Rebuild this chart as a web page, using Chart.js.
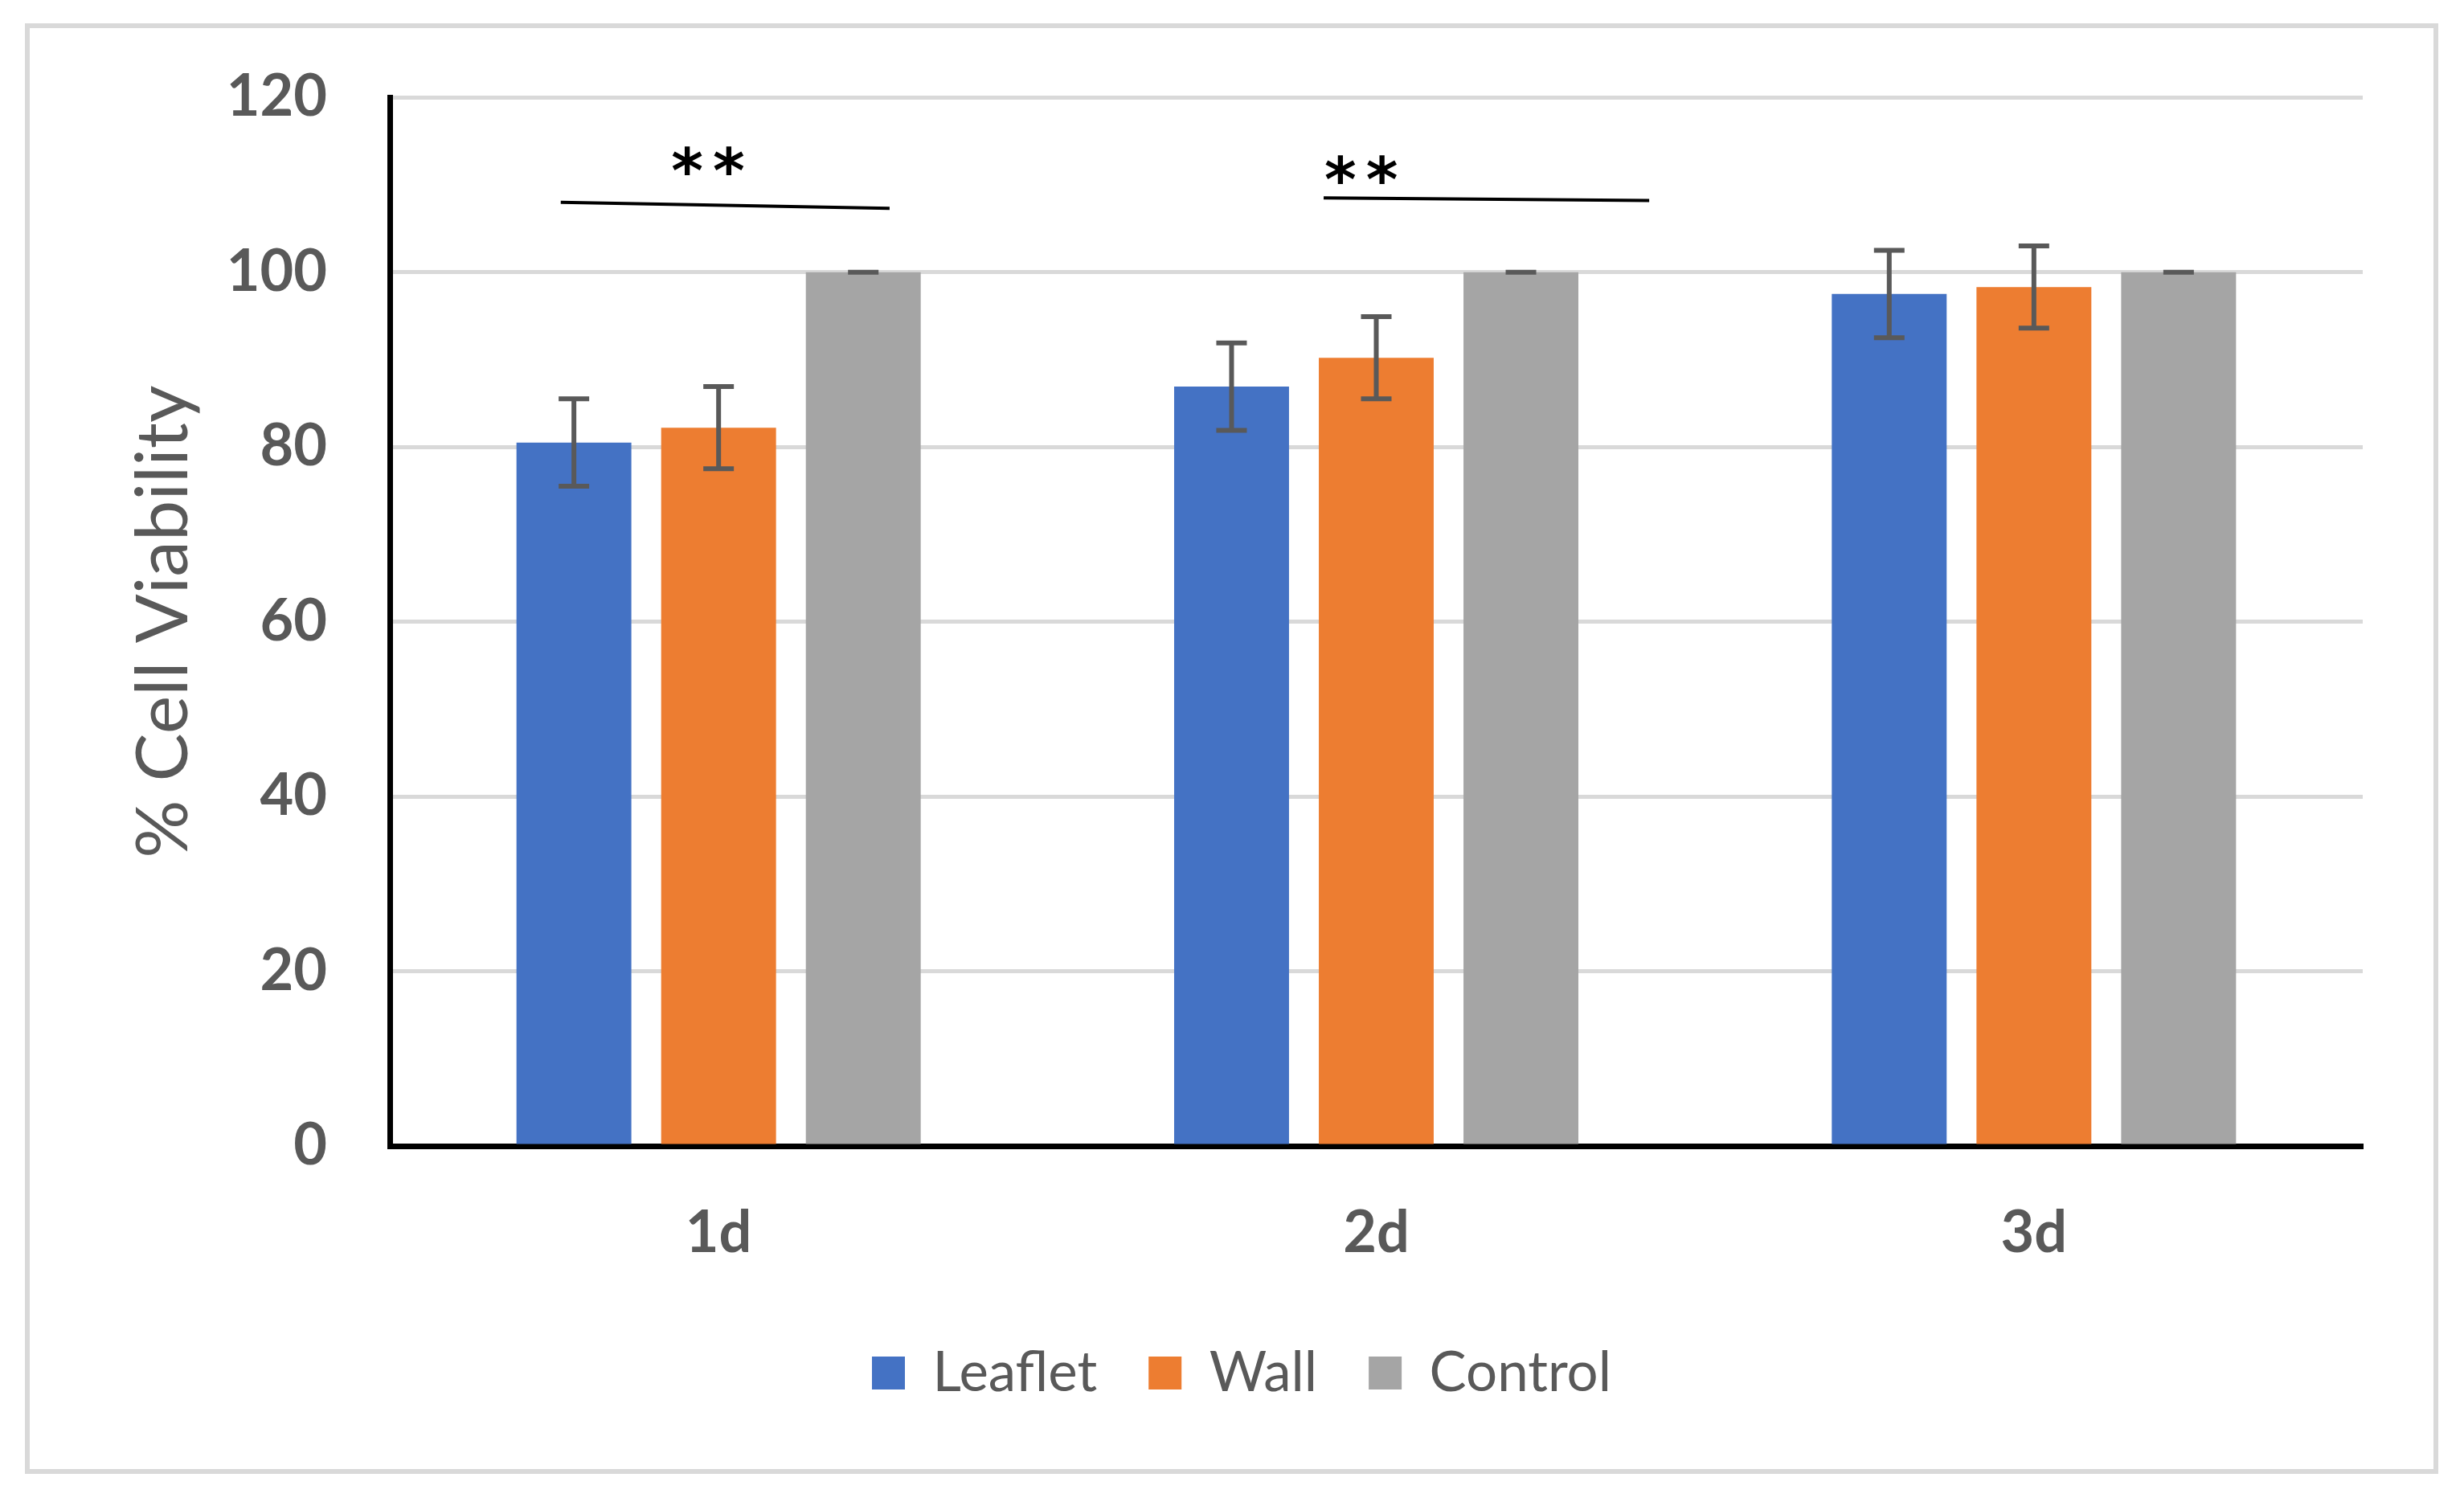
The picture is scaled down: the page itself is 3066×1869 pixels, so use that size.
<!DOCTYPE html>
<html>
<head>
<meta charset="utf-8">
<script src="https://cdn.jsdelivr.net/npm/chart.js@4/dist/chart.umd.min.js"></script>
<style>
  html, body { margin: 0; padding: 0; background: #fff; overflow: hidden; }
  #frame {
    position: absolute; left: 31px; top: 29px; width: 3003px; height: 1805px;
    border: 6px solid #d9d9d9; box-sizing: border-box; pointer-events: none;
  }
  canvas { position: absolute; left: 0; top: 0; }
</style>
</head>
<body>
<canvas id="viabilidad" width="3066" height="1869"></canvas>
<div id="frame"></div>
<script>
// data
const dias = ['1d', '2d', '3d'];
const leaflet = [80.5, 86.9, 97.5];
const wall = [82.2, 90.2, 98.3];
const control = [100, 100, 100];
const leafletErr = [5.0, 5.0, 5.0];
const wallErr = [4.7, 4.7, 4.7];
const controlErr = [0, 0, 0];
const yTicks = [0, 20, 40, 60, 80, 100, 120];

// significance bars (x in category index units, y in % units)
const sigFrom = [-0.24, 0.92];
const sigTo = [0.26, 1.415];
const sigYFrom = [108.0, 108.5];
const sigYTo = [107.3, 108.2];
const starX = [-0.016, 0.977];
const starY = [112.75, 111.7];
const starText = ['**', '**'];

const errores = [leafletErr, wallErr, controlErr];

const errorBars = {
  id: 'errorBars',
  afterDatasetsDraw(chart) {
    const { ctx, scales: { y } } = chart;
    ctx.save();
    ctx.strokeStyle = '#595959';
    chart.data.datasets.forEach((ds, i) => {
      const meta = chart.getDatasetMeta(i);
      meta.data.forEach((bar, j) => {
        const v = ds.data[j], e = errores[i][j];
        const yt = y.getPixelForValue(v + e);
        const yb = y.getPixelForValue(v - e);
        ctx.lineWidth = 6;
        ctx.beginPath();
        ctx.moveTo(bar.x, yt);
        ctx.lineTo(bar.x, yb);
        ctx.stroke();
        ctx.lineWidth = 6;
        ctx.beginPath();
        ctx.moveTo(bar.x - 19, yt); ctx.lineTo(bar.x + 19, yt);
        ctx.moveTo(bar.x - 19, yb); ctx.lineTo(bar.x + 19, yb);
        ctx.stroke();
      });
    });
    ctx.restore();
  }
};

const significancia = {
  id: 'significancia',
  afterDatasetsDraw(chart) {
    const { ctx, scales: { x, y } } = chart;
    ctx.save();
    ctx.strokeStyle = '#000';
    ctx.lineWidth = 4;
    sigFrom.forEach((f, i) => {
      ctx.beginPath();
      ctx.moveTo(x.getPixelForValue(f), y.getPixelForValue(sigYFrom[i]));
      ctx.lineTo(x.getPixelForValue(sigTo[i]), y.getPixelForValue(sigYTo[i]));
      ctx.stroke();
    });
    ctx.fillStyle = '#000';
    ctx.font = 'bold 76px "DejaVu Sans"';
    ctx.letterSpacing = '12px';
    ctx.textAlign = 'center';
    ctx.textBaseline = 'alphabetic';
    starText.forEach((t, i) => {
      const m = ctx.measureText(t);
      const off = (m.actualBoundingBoxAscent - m.actualBoundingBoxDescent) / 2;
      ctx.fillText(t, x.getPixelForValue(starX[i]) + 6, y.getPixelForValue(starY[i]) + off);
    });
    ctx.restore();
  }
};

new Chart(document.getElementById('viabilidad'), {
  type: 'bar',
  data: {
    labels: dias,
    datasets: [
      { label: 'Leaflet', data: leaflet, backgroundColor: '#4472C4' },
      { label: 'Wall', data: wall, backgroundColor: '#ED7D31' },
      { label: 'Control', data: control, backgroundColor: '#A5A5A5' }
    ]
  },
  options: {
    responsive: false,
    devicePixelRatio: 1,
    animation: false,
    categoryPercentage: 0.66,
    barPercentage: 0.794,
    layout: { padding: { left: 150, right: 126, top: 121, bottom: 116 } },
    scales: {
      x: {
        z: 1,
        grid: { display: false, drawTicks: false },
        border: { display: true, color: '#000', width: 7 },
        ticks: {
          color: '#595959',
          padding: 66,
          font: { family: 'Lato', size: 72, weight: 'bold' }
        },
        afterFit(s) { s.height = 184; }
      },
      y: {
        min: 0,
        max: 120,
        afterBuildTicks(s) { s.ticks = yTicks.map(v => ({ value: v })); },
        grid: {
          color: c => (c.tick && c.tick.value === 0 ? 'rgba(0,0,0,0)' : '#d9d9d9'),
          lineWidth: 5,
          drawTicks: false
        },
        border: { display: true, color: '#000', width: 7 },
        ticks: {
          color: '#595959',
          padding: 78,
          font: { family: 'Lato', size: 72, weight: 'bold' }
        },
        title: {
          display: true,
          text: '% Cell Viability',
          color: '#595959',
          padding: { top: 0, bottom: 0 },
          font: { family: 'Lato', size: 90 }
        },
        afterFit(s) { s.width = 335; }
      }
    },
    plugins: {
      legend: {
        position: 'bottom',
        labels: {
          boxWidth: 41,
          boxHeight: 41,
          padding: 64,
          color: '#595959',
          font: { family: 'Lato', size: 69 }
        }
      },
      tooltip: { enabled: false }
    }
  },
  plugins: [errorBars, significancia]
});
</script>
</body>
</html>
